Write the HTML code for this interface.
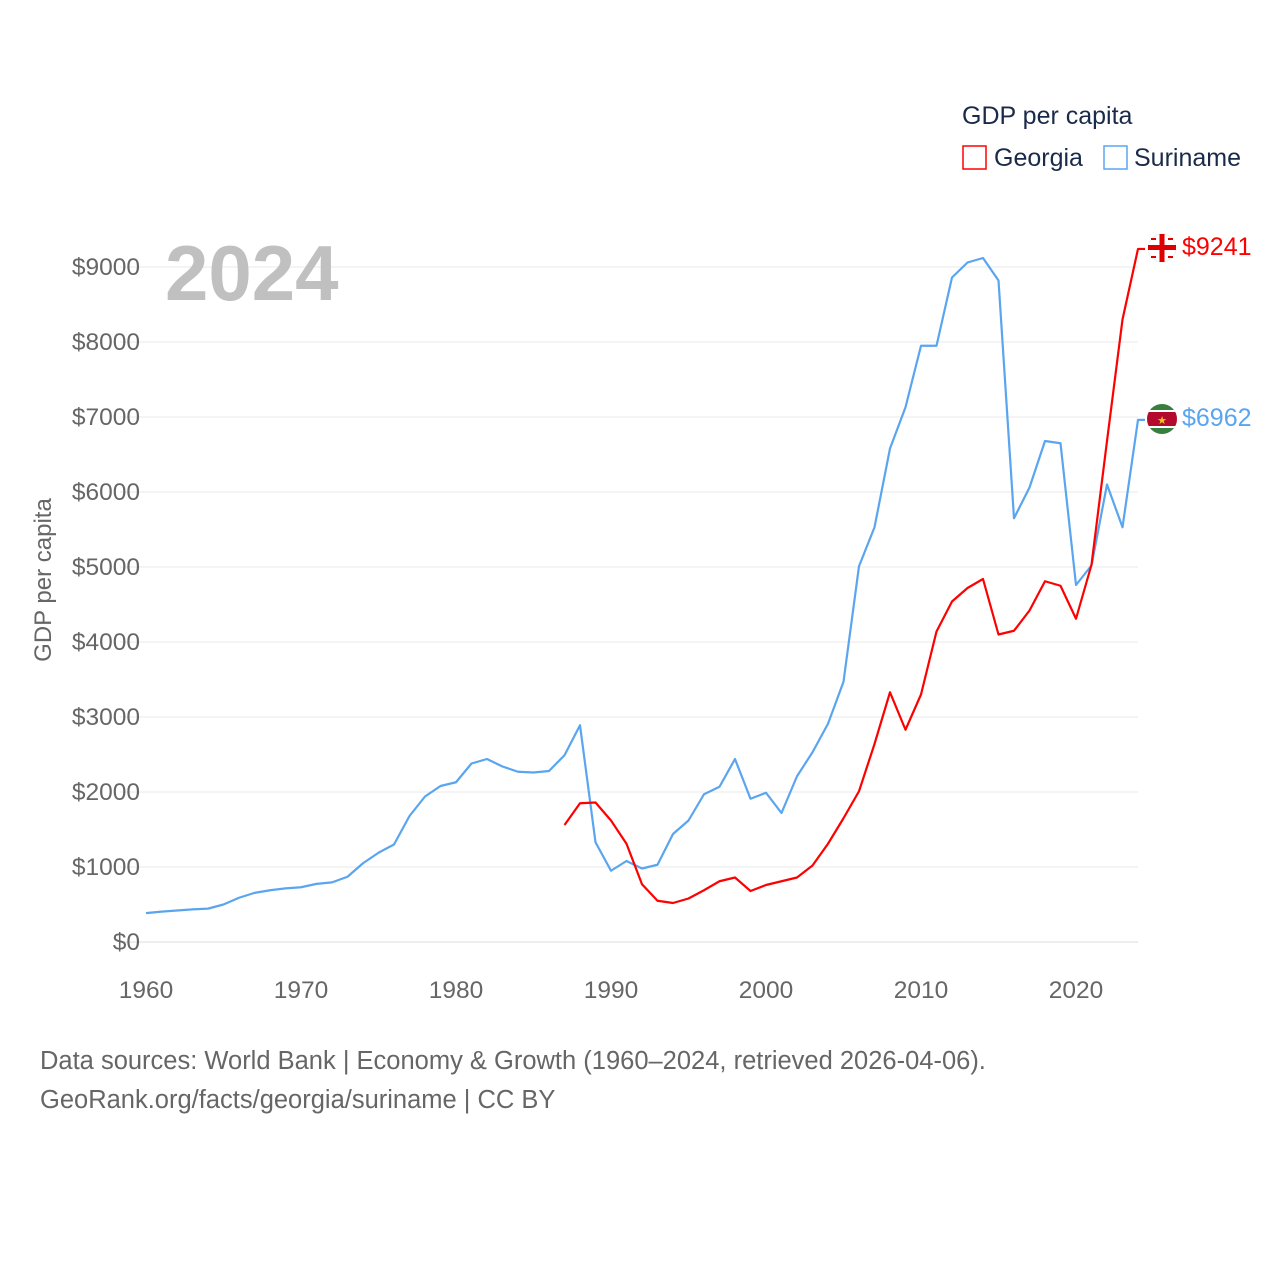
<!DOCTYPE html>
<html><head><meta charset="utf-8"><style>
body{margin:0;background:#fff;font-family:"Liberation Sans",sans-serif}
svg text{font-family:"Liberation Sans",sans-serif}
</style></head><body>
<svg id="chart" width="1280" height="1280" viewBox="0 0 1280 1280">
<g id="grid"></g>
<g id="yticks"></g>
<g id="xticks"></g>
<text x="165" y="300" font-size="78" font-weight="bold" fill="#c0c0c0">2024</text>
<text transform="translate(51,580) rotate(-90)" text-anchor="middle" font-size="24" fill="#666">GDP per capita</text>
<g id="series"></g>
<g>
<text x="962" y="124" font-size="25" fill="#1a2a4a">GDP per capita</text>
<g><rect x="963" y="146" width="23" height="23" fill="none" stroke="#f00" stroke-width="1.5"/><text x="994" y="166" font-size="25" fill="#1a2a4a">Georgia</text></g>
<g><rect x="1104" y="146" width="23" height="23" fill="none" stroke="#5aa5ef" stroke-width="1.5"/><text x="1134" y="166" font-size="25" fill="#1a2a4a">Suriname</text></g>
</g>
<g><circle cx="1162" cy="248" r="14" fill="#fff" stroke="#eee"/><rect x="1148" y="245" width="28" height="5" fill="#d00"/><rect x="1159.5" y="234" width="5" height="28" fill="#d00"/><g fill="#d00"><rect x="1151" y="238" width="5" height="2"/><rect x="1168" y="238" width="5" height="2"/><rect x="1151" y="256" width="5" height="2"/><rect x="1168" y="256" width="5" height="2"/></g></g>
<g><clipPath id="sc"><circle cx="1162" cy="419" r="15"/></clipPath><g clip-path="url(#sc)"><rect x="1147" y="404" width="30" height="30" fill="#377e3f"/><rect x="1147" y="410" width="30" height="18" fill="#fff"/><rect x="1147" y="412" width="30" height="14" fill="#b40a2d"/><text x="1162" y="424" font-size="11" text-anchor="middle" fill="#ecc81d">★</text></g></g>
<text x="1182" y="255" font-size="25" fill="#f00">$9241</text>
<text x="1182" y="426" font-size="25" fill="#5aa5ef">$6962</text>
<text x="40" y="1069" font-size="25.5" fill="#666">Data sources: World Bank | Economy &amp; Growth (1960–2024, retrieved 2026-04-06).</text>
<text x="40" y="1108" font-size="25.5" fill="#666">GeoRank.org/facts/georgia/suriname | CC BY</text>
</svg>
<script>
const surinameYears=[1960,1961,1962,1963,1964,1965,1966,1967,1968,1969,1970,1971,1972,1973,1974,1975,1976,1977,1978,1979,1980,1981,1982,1983,1984,1985,1986,1987,1988,1989,1990,1991,1992,1993,1994,1995,1996,1997,1998,1999,2000,2001,2002,2003,2004,2005,2006,2007,2008,2009,2010,2011,2012,2013,2014,2015,2016,2017,2018,2019,2020,2021,2022,2023,2024];
const surinameValues=[385,405,420,435,445,500,590,655,690,715,730,775,795,870,1050,1190,1300,1680,1940,2080,2130,2380,2440,2340,2270,2260,2280,2490,2890,1330,950,1080,980,1030,1440,1620,1970,2070,2440,1910,1990,1720,2210,2530,2910,3470,5010,5530,6580,7130,7950,7950,8860,9060,9120,8820,5650,6060,6680,6650,4760,5020,6100,5530,6962];
const georgiaYears=[1987,1988,1989,1990,1991,1992,1993,1994,1995,1996,1997,1998,1999,2000,2001,2002,2003,2004,2005,2006,2007,2008,2009,2010,2011,2012,2013,2014,2015,2016,2017,2018,2019,2020,2021,2022,2023,2024];
const georgiaValues=[1560,1850,1860,1620,1310,770,550,520,580,690,810,860,680,760,810,860,1020,1310,1650,2010,2640,3330,2830,3300,4140,4540,4720,4840,4100,4150,4420,4810,4750,4310,5030,6680,8300,9241];
const yTicks=[0,1000,2000,3000,4000,5000,6000,7000,8000,9000];
const xTicks=[1960,1970,1980,1990,2000,2010,2020];
const X=y=>146+(y-1960)*15.5;
const Y=v=>942-v*0.075;
const NS="http://www.w3.org/2000/svg";
function mk(t,a,p){const e=document.createElementNS(NS,t);for(const k in a)e.setAttribute(k,a[k]);p.appendChild(e);return e;}
const g=document.getElementById('grid'),yt=document.getElementById('yticks'),xt=document.getElementById('xticks'),s=document.getElementById('series');
yTicks.forEach(v=>{
const l=mk('line',{x1:120,x2:1138,y1:Y(v),y2:Y(v),stroke:v===0?'#ddd':'#e8e8e8','stroke-width':1},g);


const t=mk('text',{x:140,y:Y(v)+8,'text-anchor':'end','font-size':24.5,fill:'#666'},yt);t.textContent='$'+v;


});
xTicks.forEach(v=>{
const t=mk('text',{x:X(v),y:998,'text-anchor':'middle','font-size':24.5,fill:'#666'},xt);t.textContent=v;


});
function line(ys,vs,c,n){
const pts=ys.map((y,i)=>X(y)+','+Y(vs[i]));
const last=vs[vs.length-1];
const p=mk('polyline',{points:pts.join(' ')+' '+(X(ys[ys.length-1])+7)+','+Y(last),fill:'none',stroke:c,'stroke-width':2.2,'stroke-linejoin':'round'},s);


}
line(surinameYears,surinameValues,'#5aa5ef','line-suriname');
line(georgiaYears,georgiaValues,'#f00','line-georgia');
</script>
</body></html>
